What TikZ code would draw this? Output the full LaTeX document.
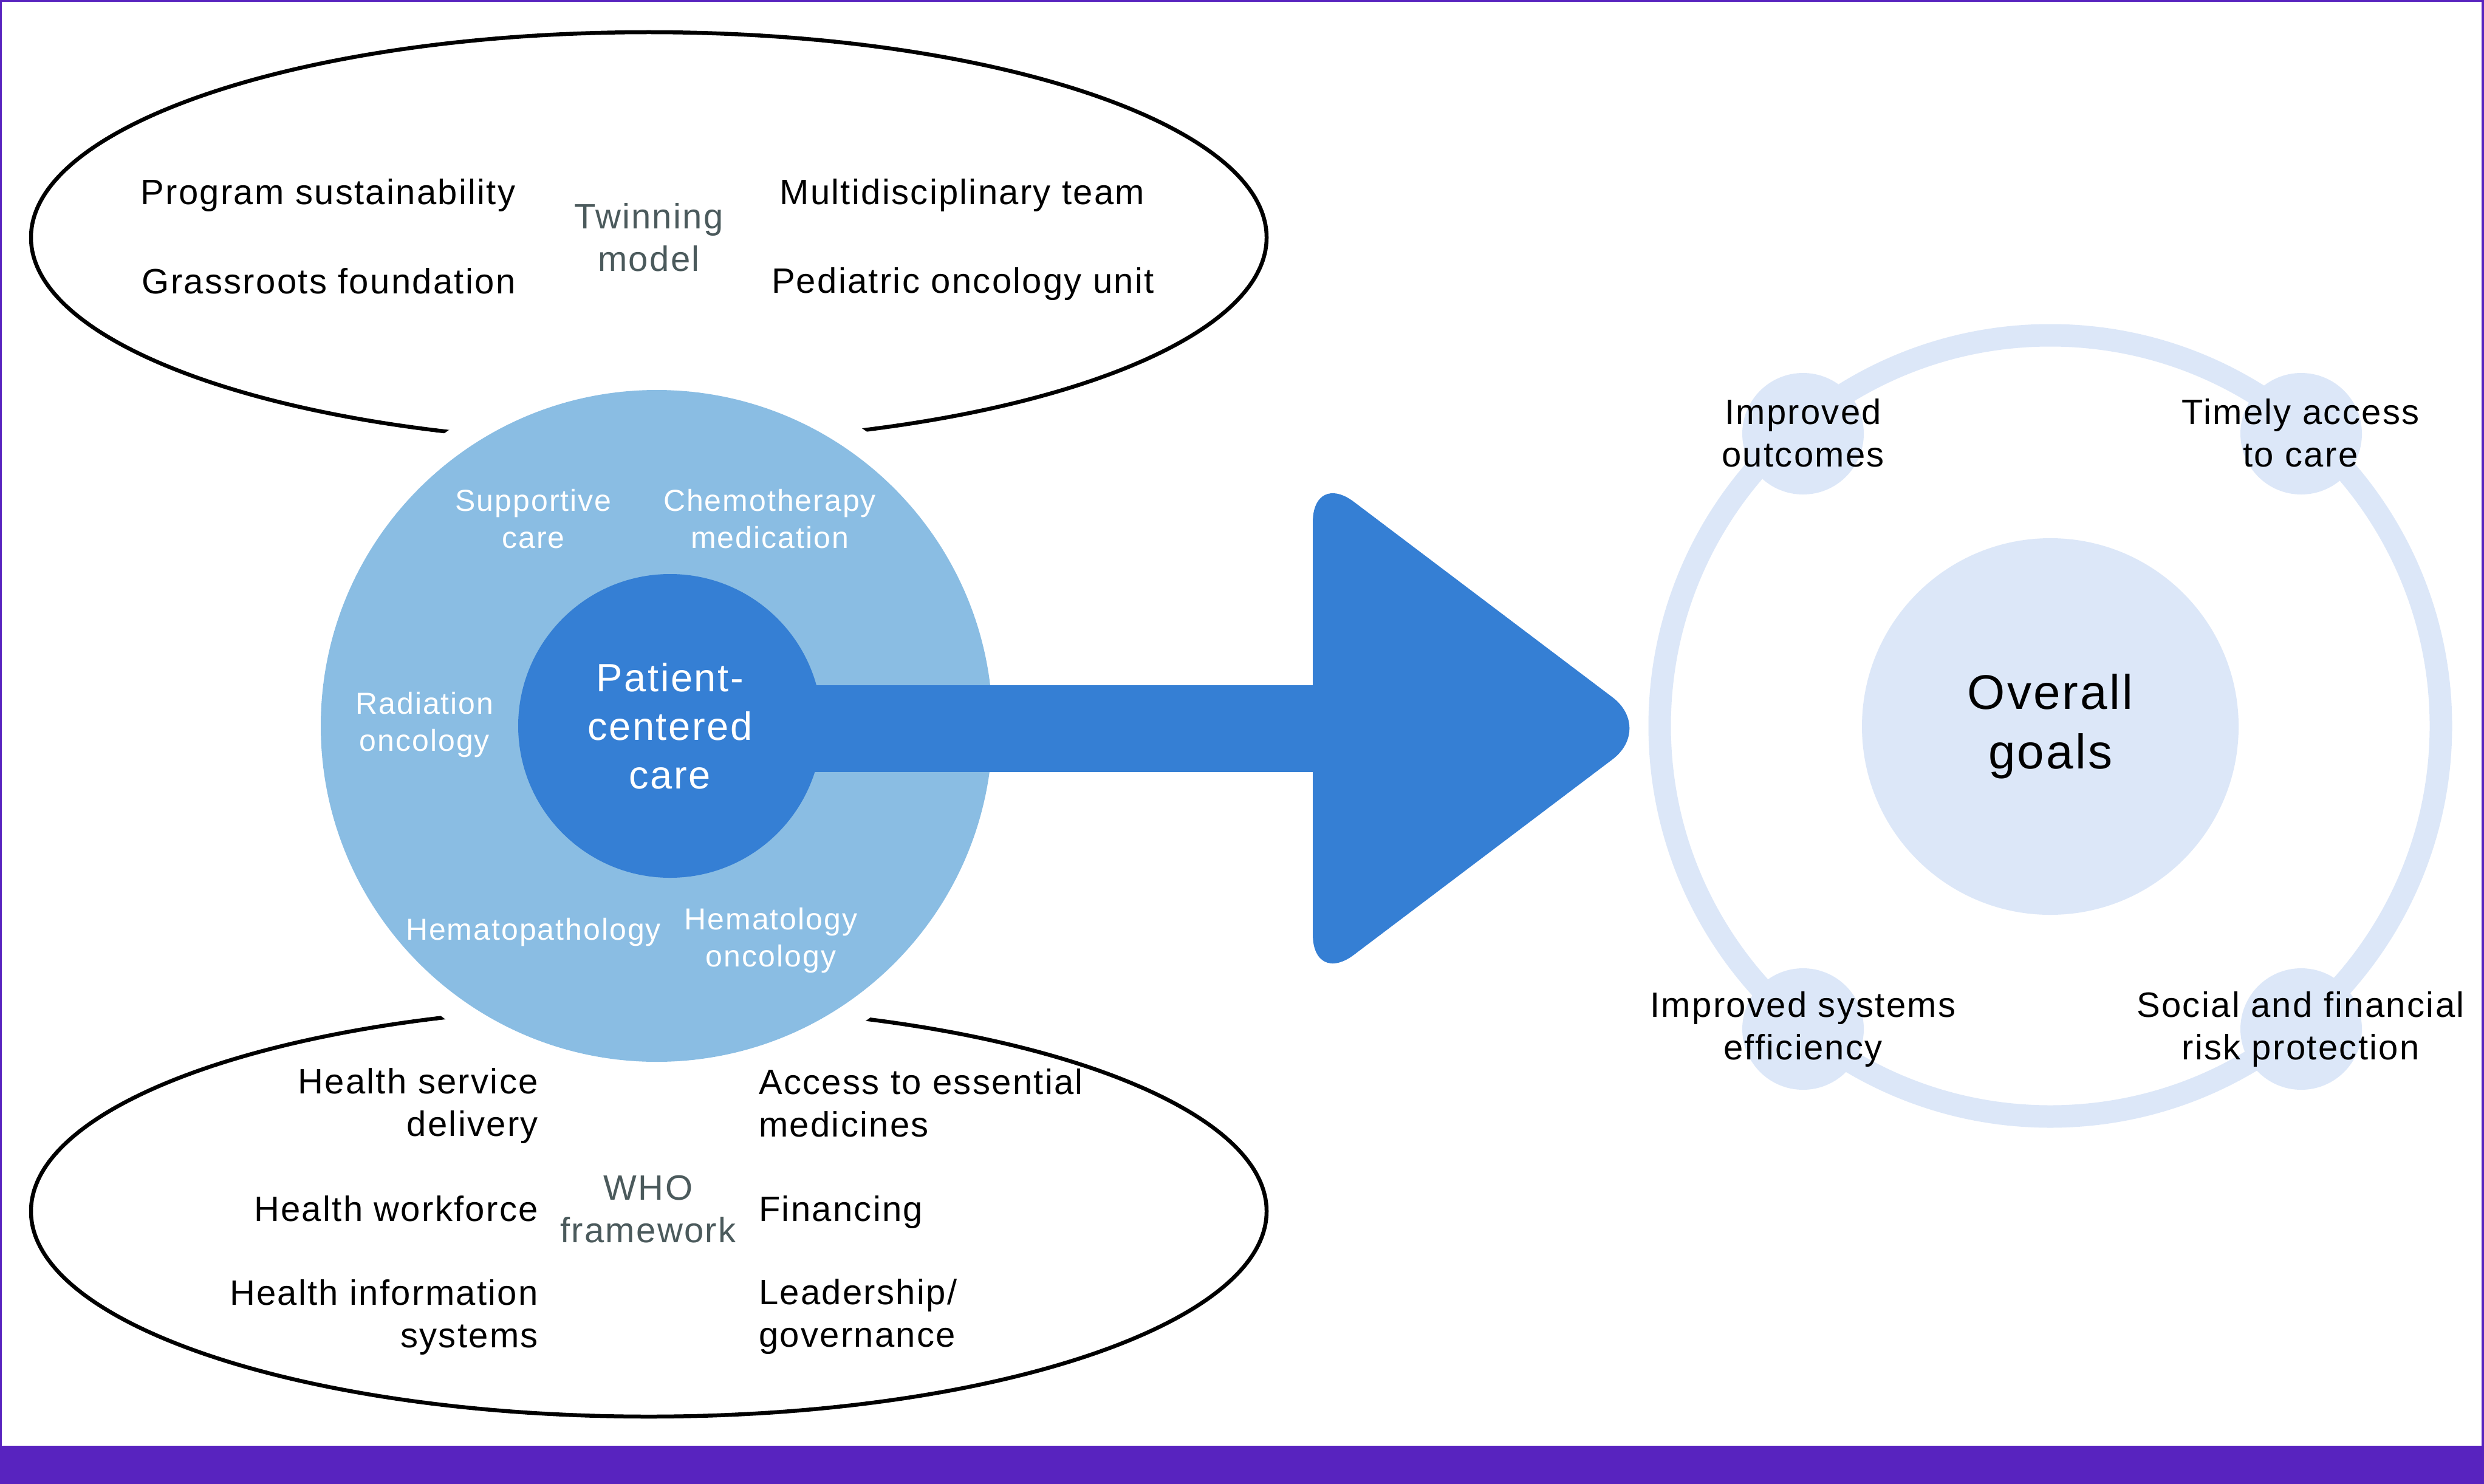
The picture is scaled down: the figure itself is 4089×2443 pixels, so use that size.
\documentclass[tikz,border=0pt]{standalone}
\usepackage{fontspec}
\setmainfont[LetterSpace=4]{Liberation Sans}
\definecolor{framec}{RGB}{88,35,191}
\definecolor{lightblue}{RGB}{138,189,227}
\definecolor{darkblue}{RGB}{53,127,212}
\definecolor{palec}{RGB}{220,231,248}
\definecolor{greyc}{RGB}{75,90,92}
\tikzset{
  blk/.style={inner sep=0, text=black, font=\fontsize{58}{70}\selectfont},
  grey/.style={blk, text=greyc, align=center},
  wht/.style={inner sep=0, text=white, align=center, font=\fontsize{50}{61}\selectfont},
  disc/.style={circle, inner sep=0, draw=none},
}
\begin{document}
\begin{tikzpicture}[x=1pt,y=-1pt]
\useasboundingbox (0,0) rectangle (4089,2443);
% frame
\fill[framec] (0,0) rectangle (4089,2443);
\fill[white] (3,3) rectangle (4085,2380);
% ellipses
\draw[line width=6.5] (1068,391) ellipse [x radius=1017, y radius=338];
\draw[line width=6.5] (1068,1994) ellipse [x radius=1017, y radius=338];
\fill[white] (1081,1195) circle (595);
% care circle
\node[disc, fill=lightblue, minimum size=1106] (care) at (1081,1195) {};
\fill[darkblue] (1300,1128) rectangle (2200,1271);
\fill[darkblue, rounded corners=85] (2161,775) -- (2722,1199) -- (2161,1623) -- cycle;
\node[disc, fill=darkblue, minimum size=500, text=white, align=center,
  font=\fontsize{65}{80}\selectfont] (pcc) at (1103,1195) {Patient-\\centered\\care};
% care labels
\node[wht] (sup) at (878,854.5) {Supportive\\care};
\node[wht] (chemo) at (1267,854.5) {Chemotherapy\\medication};
\node[wht] (rad) at (699,1193) {Radiation\\oncology};
\node[wht] (hpath) at (878,1535) {Hematopathology};
\node[wht] (honc) at (1269,1548) {Hematology\\oncology};
% top ellipse texts
\node[blk] (prog) at (540,322) {Program sustainability};
\node[blk] (grass) at (541,463) {Grassroots foundation};
\node[grey] (twin) at (1068,390.5) {Twinning\\model};
\node[blk] (multi) at (1584,322) {Multidisciplinary team};
\node[blk] (pedi) at (1585,468) {Pediatric oncology unit};
% bottom ellipse texts
\node[blk, anchor=east, align=right] (hsd) at (886,1820) {Health service\\delivery};
\node[blk, anchor=east, align=right] (hwf) at (886,1990) {Health workforce};
\node[blk, anchor=east, align=right] (his) at (886,2168) {Health information\\systems};
\node[blk, anchor=west, align=left] (acc) at (1249,1816) {Access to essential\\medicines};
\node[blk, anchor=west, align=left] (fin) at (1249,1995) {Financing};
\node[blk, anchor=west, align=left] (lead) at (1249,2167) {Leadership/\\governance};
\node[grey] (who) at (1067,1991) {WHO\\framework};
% goals
\draw[palec, line width=37] (3375,1195) circle (643);
\node[disc, fill=palec, minimum size=200] (g1) at (2968,714) {};
\node[disc, fill=palec, minimum size=200] (g2) at (3788,714) {};
\node[disc, fill=palec, minimum size=200] (g3) at (2968,1694) {};
\node[disc, fill=palec, minimum size=200] (g4) at (3788,1694) {};
\node[blk, align=center] (t1) at (2968,713) {Improved\\outcomes};
\node[blk, align=center] (t2) at (3787,713) {Timely access\\to care};
\node[blk, align=center] (t3) at (2968,1694) {Improved systems\\efficiency};
\node[blk, align=center] (t4) at (3787,1694) {Social and financial\\risk protection};
\node[disc, fill=palec, minimum size=620, align=center,
  font=\fontsize{80}{98}\selectfont] (goals) at (3375,1196) {Overall\\goals};
\end{tikzpicture}
\end{document}
